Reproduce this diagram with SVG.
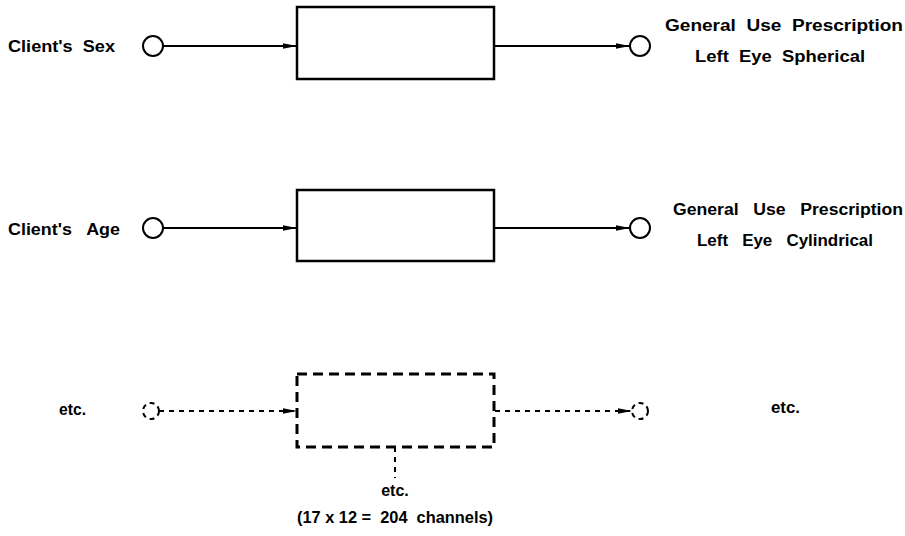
<svg xmlns="http://www.w3.org/2000/svg" width="905" height="536" viewBox="0 0 905 536" xml:space="preserve">
<style>
text{font-family:"Liberation Sans",Arial,sans-serif;font-weight:bold;font-size:16px;fill:#000;white-space:pre}
.box{fill:none;stroke:#000;stroke-width:2.5}
.dbox{fill:none;stroke:#000;stroke-width:3;stroke-dasharray:10,6}
.ln{stroke:#000;stroke-width:2;fill:none}
.dln{stroke:#000;stroke-width:2;fill:none;stroke-dasharray:5,5}
.pt{fill:#fff;stroke:#000;stroke-width:2}
.dpt{fill:#fff;stroke:#000;stroke-width:2;stroke-dasharray:5,4}
</style>
<defs>
<marker id="ah" markerWidth="14" markerHeight="8" refX="14" refY="4" orient="auto" markerUnits="userSpaceOnUse">
<path d="M0,1.2 L14,4 L0,6.8 Z" fill="#000"/>
</marker>
</defs>
<g id="connectors">
<line class="ln" x1="163" y1="46" x2="297" y2="46" marker-end="url(#ah)"/>
<line class="ln" x1="495" y1="46" x2="630" y2="46" marker-end="url(#ah)"/>
<line class="ln" x1="163" y1="228" x2="297" y2="228" marker-end="url(#ah)"/>
<line class="ln" x1="495" y1="228" x2="630" y2="228" marker-end="url(#ah)"/>
<line class="dln" x1="159" y1="411" x2="297" y2="411" marker-end="url(#ah)"/>
<line class="dln" x1="495" y1="411" x2="632" y2="411" marker-end="url(#ah)"/>
<line class="dln" x1="395" y1="447" x2="395" y2="478"/>
</g>
<g id="in1"><circle class="pt" cx="153" cy="46" r="10"/><text x="8" y="52" textLength="107" lengthAdjust="spacingAndGlyphs">Client's  Sex</text></g>
<g id="box1"><rect class="box" x="297" y="7" width="197" height="72"/></g>
<g id="out1"><circle class="pt" cx="640" cy="46" r="10"/>
<text x="665" y="31" textLength="238" lengthAdjust="spacingAndGlyphs">General  Use  Prescription</text>
<text x="695" y="62" textLength="170" lengthAdjust="spacingAndGlyphs">Left  Eye  Spherical</text></g>
<g id="in2"><circle class="pt" cx="153" cy="228" r="10"/><text x="8" y="235" textLength="112" lengthAdjust="spacingAndGlyphs">Client's   Age</text></g>
<g id="box2"><rect class="box" x="297" y="190" width="197" height="71"/></g>
<g id="out2"><circle class="pt" cx="640" cy="228" r="10"/>
<text x="673" y="215" textLength="230" lengthAdjust="spacingAndGlyphs">General   Use   Prescription</text>
<text x="697" y="246" textLength="176" lengthAdjust="spacingAndGlyphs">Left   Eye   Cylindrical</text></g>
<g id="in3"><circle class="dpt" cx="151" cy="411" r="8"/><text x="59" y="415" textLength="27" lengthAdjust="spacingAndGlyphs">etc.</text></g>
<g id="box3"><rect class="dbox" x="297" y="374" width="197" height="73"/></g>
<g id="out3"><circle class="dpt" cx="640" cy="411" r="8"/><text x="771" y="413" textLength="29" lengthAdjust="spacingAndGlyphs">etc.</text></g>
<g id="note"><text x="395" y="496" text-anchor="middle" font-size="17">etc.</text>
<text x="297" y="523" textLength="196" lengthAdjust="spacingAndGlyphs">(17 x 12 =  204  channels)</text></g>
</svg>
